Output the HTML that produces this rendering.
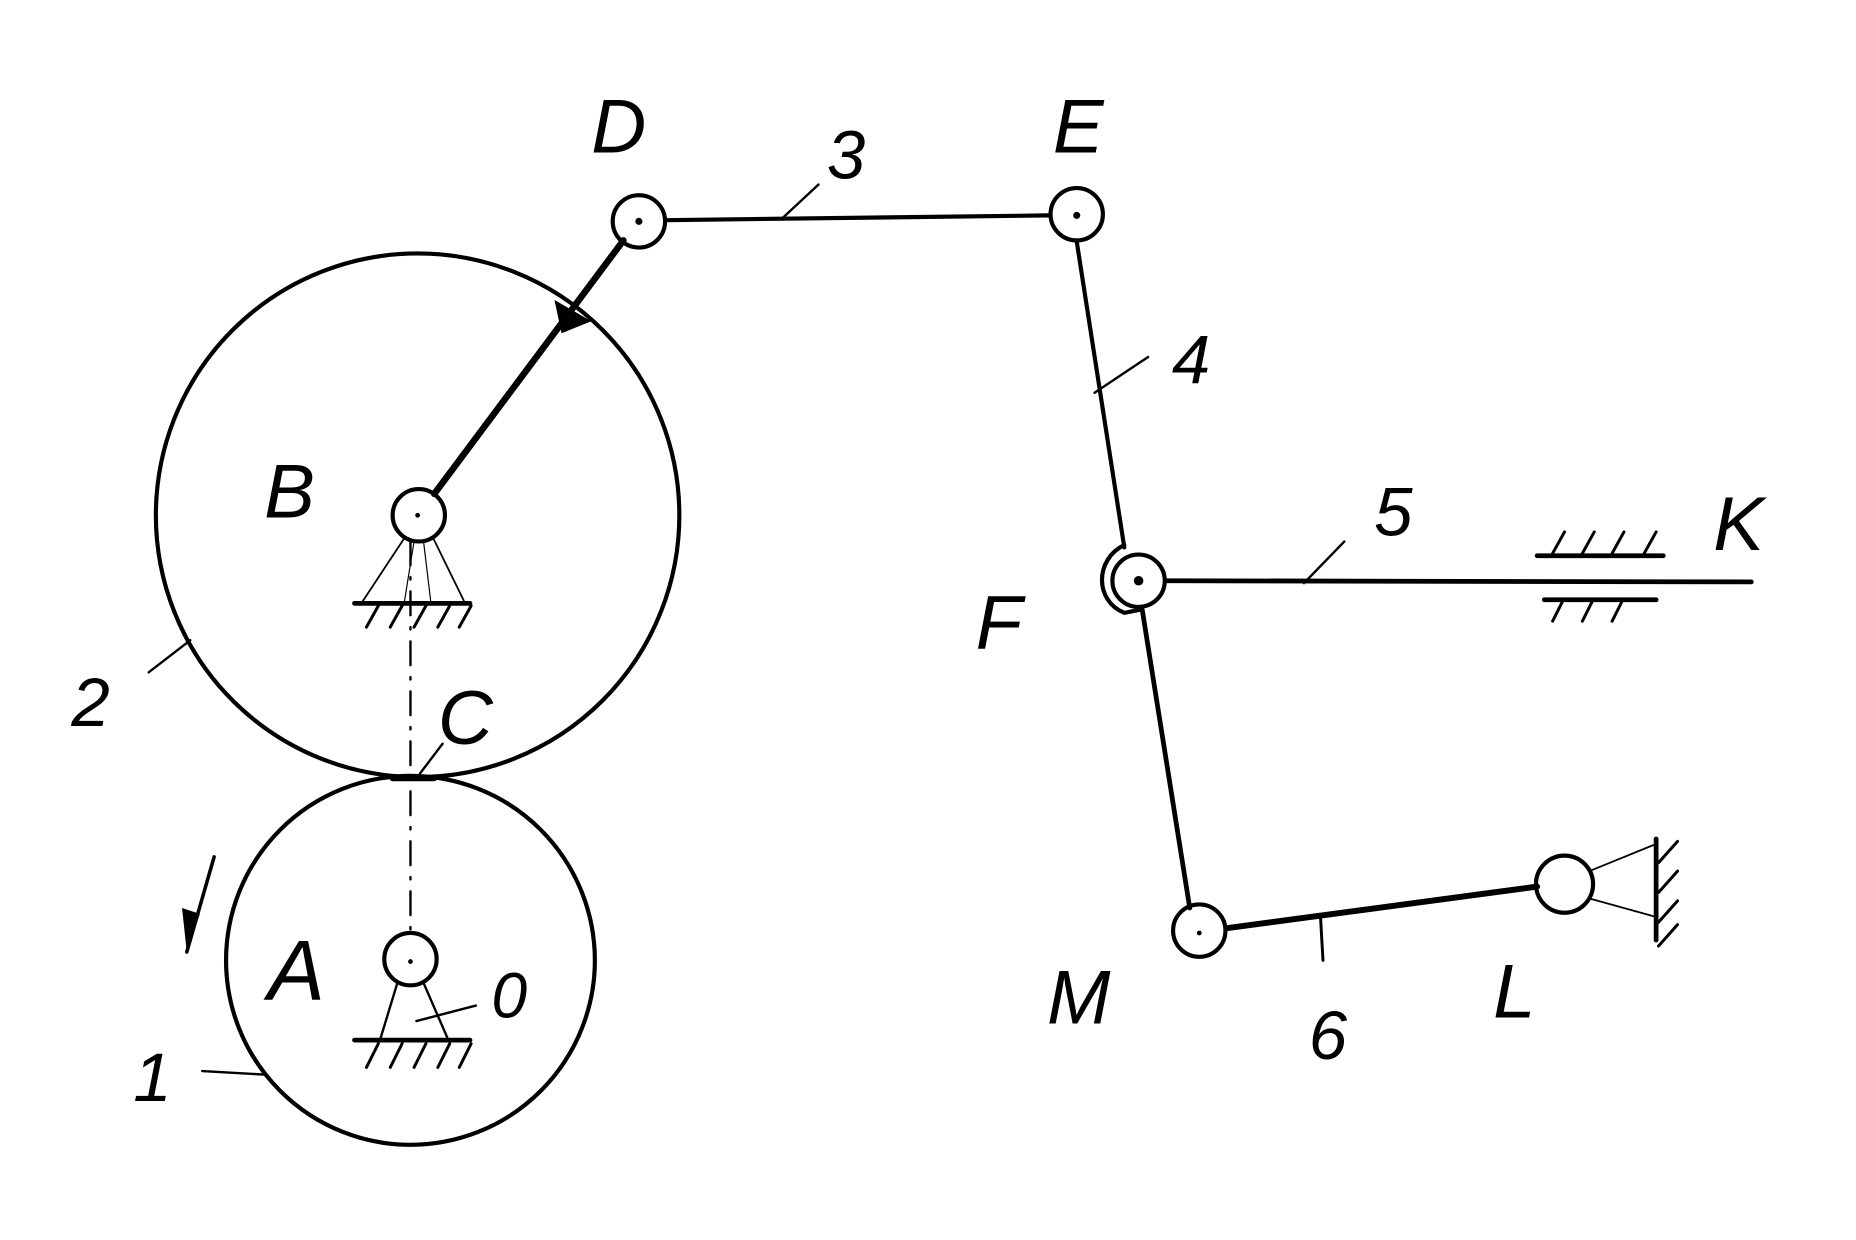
<!DOCTYPE html>
<html><head><style>html,body{margin:0;padding:0;background:#fff}svg{display:block}</style></head>
<body>
<svg width="1856" height="1240" viewBox="0 0 1560 1042" preserveAspectRatio="none" xmlns="http://www.w3.org/2000/svg">
<g fill="none" stroke="#000" stroke-width="3.5" stroke-linecap="round">
<circle cx="351" cy="433" r="220"/>
<circle cx="345" cy="807" r="155"/>
<path d="M330 654 L365 654" stroke-width="5"/>
<line x1="345" y1="455" x2="345" y2="785" stroke-dasharray="20 10 2 10" stroke-width="2"/>
<circle cx="352" cy="433" r="22"/>
<line x1="340" y1="452" x2="305" y2="505" stroke-width="1.5"/>
<line x1="364" y1="452" x2="390" y2="505" stroke-width="1.5"/>
<line x1="348" y1="455" x2="340" y2="505" stroke-width="1"/>
<line x1="356" y1="455" x2="362" y2="505" stroke-width="1"/>
<line x1="298" y1="507" x2="395" y2="507" stroke-width="4"/>
<path d="M318 509l-10 18M338 509l-10 18M358 509l-10 18M378 509l-10 18M396 509l-10 18" stroke-width="2.5"/>
<circle cx="345" cy="806" r="22"/>
<line x1="334" y1="826" x2="320" y2="872" stroke-width="2"/>
<line x1="356" y1="826" x2="376" y2="872" stroke-width="2"/>
<line x1="298" y1="874" x2="395" y2="874" stroke-width="4"/>
<path d="M318 877l-10 20M338 877l-10 20M358 877l-10 20M378 877l-10 20M396 877l-10 20" stroke-width="2.5"/>
<line x1="350" y1="858" x2="400" y2="845" stroke-width="2"/>
<line x1="365" y1="415" x2="524" y2="202" stroke-width="5.5"/>
<circle cx="537" cy="186" r="22"/>
<circle cx="905" cy="180" r="22"/>
<line x1="560" y1="185" x2="882" y2="181"/>
<line x1="658" y1="183" x2="688" y2="155" stroke-width="2"/>
<line x1="905" y1="203" x2="945" y2="460"/>
<line x1="920" y1="330" x2="965" y2="300" stroke-width="2"/>
<line x1="960" y1="512" x2="1000" y2="763" stroke-width="4"/>
<circle cx="957" cy="488" r="22"/>
<path d="M945 458 C920 470 920 505 945 515 L960 512" stroke-width="3.5"/>
<line x1="980" y1="488" x2="1472" y2="489" stroke-width="4"/>
<line x1="1096" y1="490" x2="1130" y2="455" stroke-width="2"/>
<line x1="1292" y1="467" x2="1398" y2="467" stroke-width="4"/>
<path d="M1305 465l10-18M1330 465l10-18M1355 465l10-18M1382 465l10-18" stroke-width="2.5"/>
<line x1="1298" y1="504" x2="1392" y2="504" stroke-width="4"/>
<path d="M1313 506l-8 16M1338 506l-8 16M1363 506l-8 16" stroke-width="2.5"/>
<circle cx="1008" cy="782" r="22"/>
<line x1="1031" y1="780" x2="1292" y2="745" stroke-width="5"/>
<line x1="1110" y1="772" x2="1112" y2="807" stroke-width="2.5"/>
<circle cx="1315" cy="743" r="24"/>
<line x1="1336" y1="732" x2="1390" y2="710" stroke-width="1.5"/>
<line x1="1336" y1="755" x2="1390" y2="770" stroke-width="1.5"/>
<line x1="1392" y1="705" x2="1392" y2="790" stroke-width="4"/>
<path d="M1394 725l16-18M1394 750l16-18M1394 775l16-18M1394 795l16-18" stroke-width="2.5"/>
<line x1="125" y1="565" x2="160" y2="538" stroke-width="2"/>
<line x1="170" y1="900" x2="222" y2="903" stroke-width="2"/>
<line x1="353" y1="650" x2="372" y2="625" stroke-width="2"/>
<line x1="180" y1="720" x2="157" y2="800" stroke-width="3"/>
</g>
<g fill="#000">
<polygon points="466,252 497,270 472,280"/>
<circle cx="537" cy="186" r="3"/><circle cx="905" cy="181" r="3"/><circle cx="957" cy="488" r="4"/>
<circle cx="351" cy="433" r="2"/><circle cx="345" cy="808" r="2"/><circle cx="1008" cy="784" r="2"/>
<polygon points="153,763 168,768 157,800"/>
</g>
<g font-family="Liberation Sans, sans-serif" font-size="64" font-style="italic" fill="#000">
<text x="497" y="128">D</text>
<text x="885" y="128">E</text>
<text x="695" y="150" font-size="58">3</text>
<text x="985" y="322" font-size="58">4</text>
<text x="1155" y="450" font-size="58">5</text>
<text x="1440" y="462">K</text>
<text x="820" y="545">F</text>
<text x="222" y="435">B</text>
<text x="368" y="625">C</text>
<text x="60" y="610" font-size="58">2</text>
<text x="225" y="840" font-size="72">A</text>
<text x="413" y="855" font-size="54">0</text>
<text x="112" y="925" font-size="58">1</text>
<text x="880" y="860">M</text>
<text x="1100" y="890" font-size="58">6</text>
<text x="1255" y="855">L</text>
</g>
</svg>
</body></html>
